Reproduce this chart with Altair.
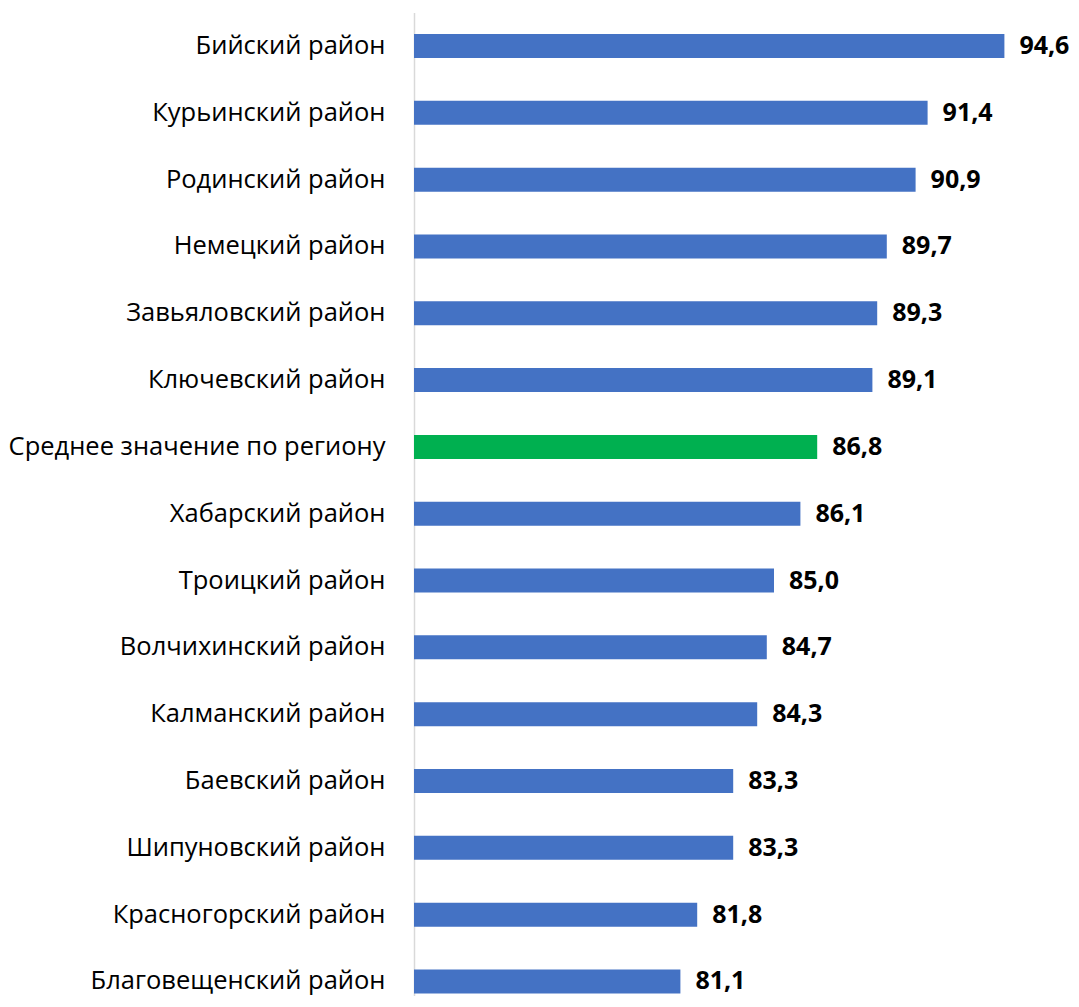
import altair as alt
import pandas as pd

categories = [
    "Бийский район",
    "Курьинский район",
    "Родинский район",
    "Немецкий район",
    "Завьяловский район",
    "Ключевский район",
    "Среднее значение по региону",
    "Хабарский район",
    "Троицкий район",
    "Волчихинский район",
    "Калманский район",
    "Баевский район",
    "Шипуновский район",
    "Красногорский район",
    "Благовещенский район",
]
values = [94.6, 91.4, 90.9, 89.7, 89.3, 89.1, 86.8, 86.1, 85.0, 84.7, 84.3, 83.3, 83.3, 81.8, 81.1]
groups = ["район", "район", "район", "район", "район", "район", "среднее",
          "район", "район", "район", "район", "район", "район", "район", "район"]

df = pd.DataFrame({
    "cat": categories,
    "val": values,
    "grp": groups,
    "lbl": [f"{v:.1f}".replace(".", ",") for v in values],
})

FONT = "Open Sans"

y = alt.Y(
    "cat:N",
    sort=categories,
    scale=alt.Scale(paddingInner=0.6408, paddingOuter=0.179, align=0.894),
    axis=alt.Axis(
        title=None,
        ticks=False,
        grid=False,
        domainColor="#d9d9d9",
        domainWidth=1.5,
        labelPadding=29,
        labelFont=FONT,
        labelFontSize=25.5,
        labelColor="#000000",
        labelLimit=500,
    ),
)
x = alt.X("val:Q", scale=alt.Scale(domain=[70, 97], zero=False, nice=False), axis=None)

bars = alt.Chart(df).mark_bar().encode(
    x=x,
    x2=alt.datum(70),
    y=y,
    color=alt.Color(
        "grp:N",
        scale=alt.Scale(domain=["район", "среднее"], range=["#4472C4", "#00B050"]),
        legend=None,
    ),
)

text = alt.Chart(df).mark_text(
    align="left", baseline="middle", dx=15, dy=0, font=FONT, fontSize=25,
    fontWeight="bold", color="#000000"
).encode(x=x, y=alt.Y("cat:N", sort=categories), text="lbl:N")

chart = (
    alt.layer(bars, text)
    .properties(
        width=648,
        height=983.4,
        autosize=alt.AutoSizeParams(type="none"),
        padding={"left": 406, "top": 4.6, "right": 9, "bottom": 0},
    )
    .configure_view(stroke=None)
)

chart.save("out.html", embed_options={"renderer": "svg", "actions": False})
